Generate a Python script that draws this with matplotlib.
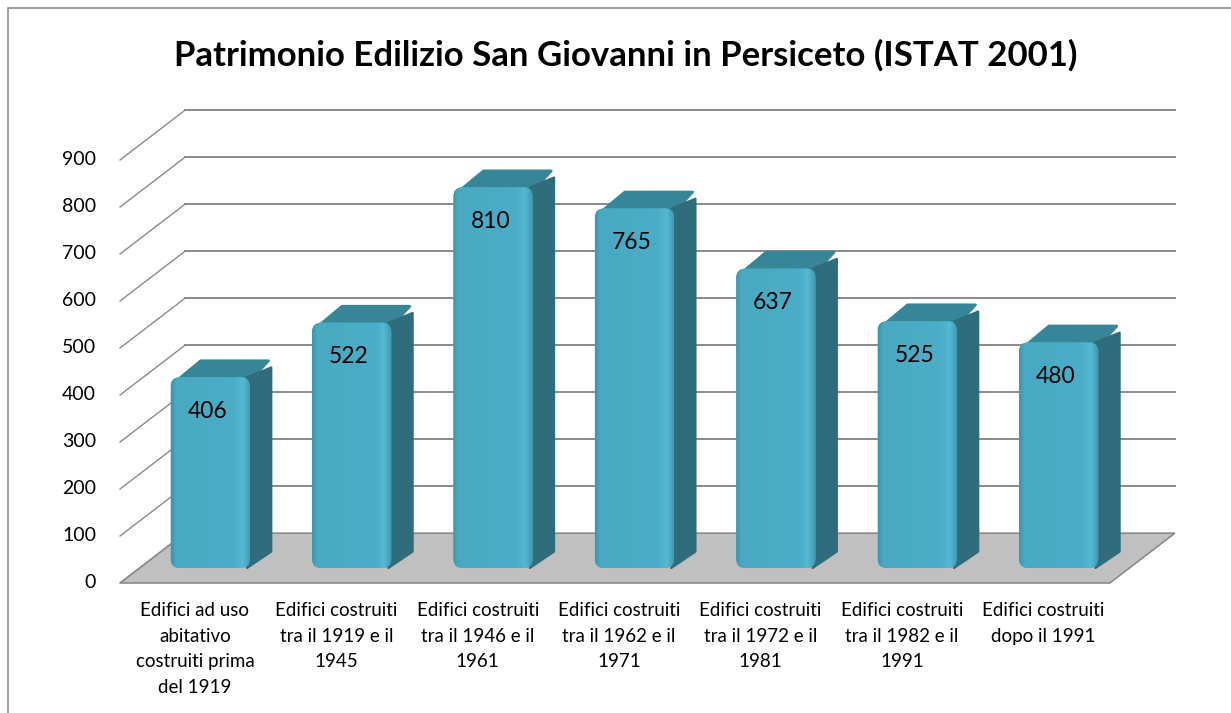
import numpy as np
import matplotlib
matplotlib.use("Agg")
import matplotlib.pyplot as plt
from matplotlib.patches import Polygon, FancyBboxPatch, Rectangle
from matplotlib.colors import LinearSegmentedColormap

# Données (ISTAT 2001)
categorie = [
    "Edifici ad uso\nabitativo\ncostruiti prima\ndel 1919",
    "Edifici costruiti\ntra il 1919 e il\n1945",
    "Edifici costruiti\ntra il 1946 e il\n1961",
    "Edifici costruiti\ntra il 1962 e il\n1971",
    "Edifici costruiti\ntra il 1972 e il\n1981",
    "Edifici costruiti\ntra il 1982 e il\n1991",
    "Edifici costruiti\ndopo il 1991",
]
valori = [406, 522, 810, 765, 637, 525, 480]
tick_valori = [0, 100, 200, 300, 400, 500, 600, 700, 800, 900]
titolo = "Patrimonio Edilizio San Giovanni in Persiceto (ISTAT 2001)"

plt.rcParams['font.family'] = ['Lato', 'DejaVu Sans']

# Parametri della "prospettiva" obliqua (unità dati)
DX = 0.46      # spostamento orizzontale della profondità (in categorie)
DY = 106.0     # spostamento verticale della profondità (in valori)
d0, d1 = 0.30, 0.63   # profondità della barra
larg = 0.56

fig = plt.figure(figsize=(12.31, 7.13), dpi=100)
ax = fig.add_axes([0, 0, 1, 1])
ax.set_xlim(-0.849, 7.857)
ax.set_ylim(-276.6, 1240.4)
ax.axis("off")

n = len(valori)
col_grid = "#8a8a8a"

# cornice
fig.patches.append(Rectangle((8 / 1231, -0.1), 1.2, 1 - 8 / 713 + 0.1,
                             transform=fig.transFigure, fill=False,
                             edgecolor="#8c8c8c", lw=1.2))

# griglia: parete di fondo e parete laterale
for v in tick_valori:
    if v > 0:
        ax.plot([DX, n + DX], [DY + v, DY + v], color=col_grid, lw=1.4, zorder=1)
    ax.plot([0, DX], [v, DY + v], color=col_grid, lw=1.0, zorder=1)

# pavimento
pav = Polygon([(0, 0), (n, 0), (n + DX, DY), (DX, DY)], closed=True,
              facecolor="#c0c0c0", edgecolor="#8a8a8a", lw=1.2, zorder=2)
ax.add_patch(pav)

# rapporto pixel per unità per angoli arrotondati
p0, p1 = ax.transData.transform([(0, 0), (1, 1)])
aspetto = (p1[0] - p0[0]) / (p1[1] - p0[1])

cmap = LinearSegmentedColormap.from_list(
    "barra", [(0, "#3d94aa"), (0.06, "#49a9c3"), (0.8, "#4badc7"),
              (0.9, "#55b9d3"), (1.0, "#3f97ad")])
xs = np.linspace(0, 1, 200).reshape(1, -1)

for i, v in enumerate(valori):
    c = i + 0.5
    x0 = c - larg / 2 + d0 * DX
    x1 = x0 + larg
    yb = d0 * DY
    yt = yb + v
    ddx = (d1 - d0) * DX
    ddy = (d1 - d0) * DY
    z = 5 + i
    # faccia superiore
    top = Polygon([(x0 + 0.04, yt - 8), (x1, yt - 8), (x1 + ddx - 0.02, yt + ddy),
                   (x0 + ddx + 0.06, yt + ddy)], closed=True,
                  facecolor="#378697", edgecolor="#378697", lw=2, joinstyle="round",
                  zorder=z)
    ax.add_patch(top)
    # faccia laterale
    lato = Polygon([(x1 - 0.02, yb), (x1 + ddx, yb + ddy), (x1 + ddx, yt + ddy - 14),
                    (x1 - 0.02, yt)], closed=True,
                   facecolor="#2f6d7d", edgecolor="#2f6d7d", lw=1.5, joinstyle="round",
                   zorder=z)
    ax.add_patch(lato)
    # faccia frontale
    fronte = FancyBboxPatch((x0, yb), larg, v,
                            boxstyle="round,pad=0,rounding_size=0.065",
                            mutation_aspect=aspetto,
                            facecolor="#4bacc6", edgecolor="none", zorder=z + 0.1)
    ax.add_patch(fronte)
    im = ax.imshow(xs, cmap=cmap, extent=(x0, x1, yb, yt), aspect="auto",
                   zorder=z + 0.2, interpolation="bilinear")
    im.set_clip_path(fronte)
    # etichetta valore
    ax.text(c + d0 * DX - 0.02, yt - 72, str(v), ha="center", va="center",
            fontsize=16.5, color="black", zorder=30)

# etichette asse y
for v in tick_valori:
    ax.text(-0.17, v, str(v), ha="right", va="center", fontsize=14, color="black")

# etichette categorie
for i, lab in enumerate(categorie):
    ax.text(i + 0.53, -40, lab, ha="center", va="top", fontsize=13.5,
            linespacing=1.63, color="black")

# titolo
ax.text(3.573, 1123, titolo, ha="center", va="center",
        fontsize=25, fontweight="bold", color="black")

fig.savefig("out.png", dpi=100)
